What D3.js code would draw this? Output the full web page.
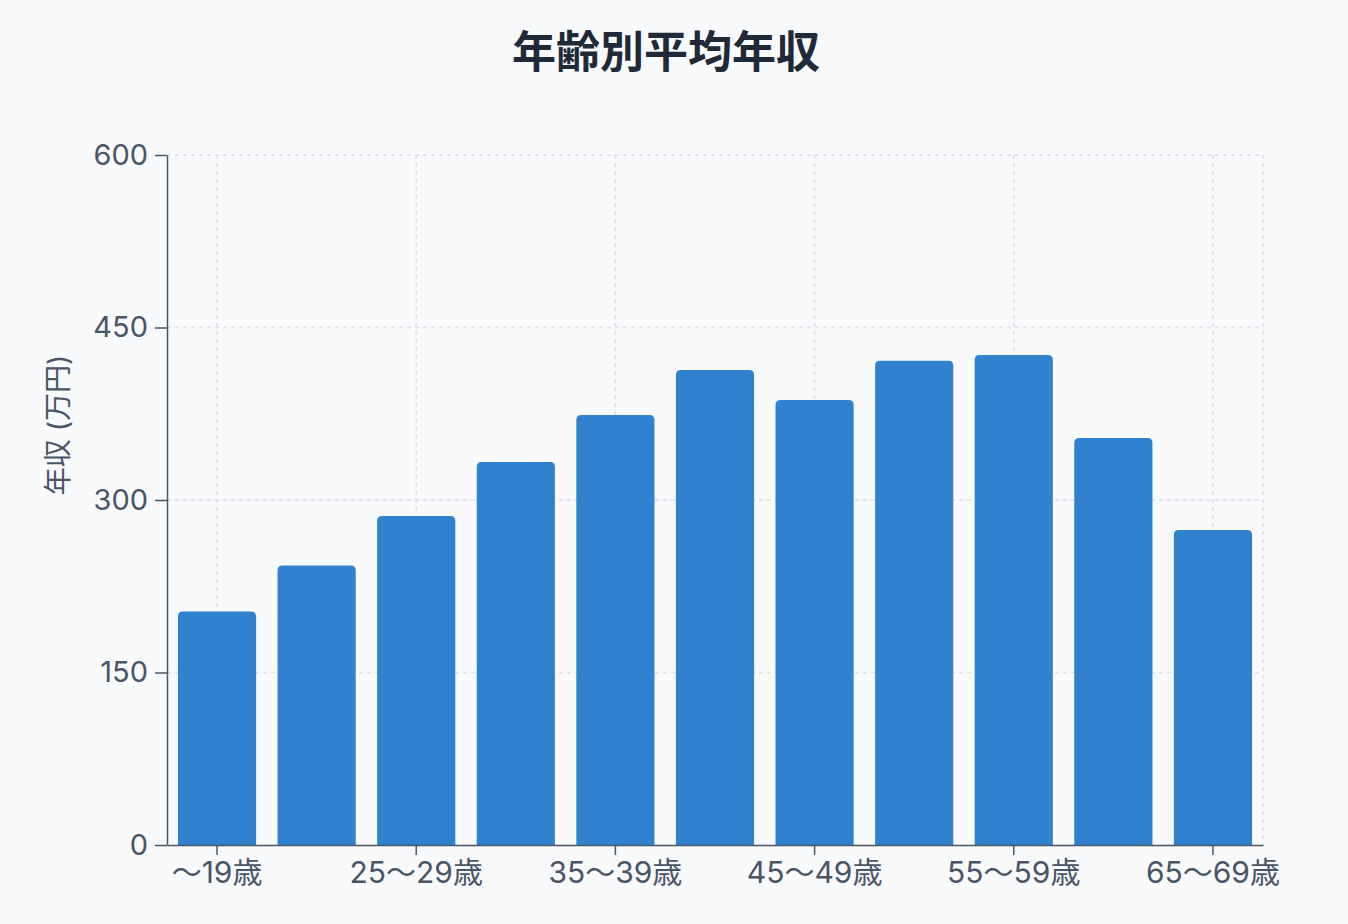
<!DOCTYPE html>
<html>
<head>
<meta charset="utf-8">
<script src="https://cdn.jsdelivr.net/npm/d3@7"></script>
<style>
  html, body { margin: 0; padding: 0; background: #f8fafc; }
  svg { display: block; font-family: Inter, "Noto Sans CJK JP", sans-serif; }
</style>
</head>
<body>
<svg id="chart"></svg>
<script>
// data
const ageGroups = ['〜19歳', '20〜24歳', '25〜29歳', '30〜34歳', '35〜39歳', '40〜44歳',
    '45〜49歳', '50〜54歳', '55〜59歳', '60〜64歳', '65〜69歳']
const avgIncome = [203, 243, 286, 333, 374, 413, 387, 421, 426, 354, 274]
const yTicks = [0, 150, 300, 450, 600]

const svgw = 1348
const svgh = 924
const margin = { top: 155, right: 85, bottom: 79, left: 167 }
const w = svgw - margin.left - margin.right
const h = svgh - margin.top - margin.bottom
const fontStack = 'Inter, "Noto Sans CJK JP", sans-serif'

const svg = d3.select('#chart')
    .attr('width', svgw)
    .attr('height', svgh)

svg.append('rect')
    .attr('width', svgw)
    .attr('height', svgh)
    .attr('fill', '#f8fafc')

svg.append('text')
    .attr('x', 666)
    .attr('y', 68)
    .attr('text-anchor', 'middle')
    .style('font-family', '"Noto Sans CJK JP", sans-serif')
    .style('font-size', '44px')
    .style('font-weight', 'bold')
    .style('fill', '#1f2937')
    .text('年齢別平均年収')

const g = svg.append('g')
    .attr('transform', `translate(${margin.left}, ${margin.top})`)

const xScale = d3.scaleBand()
    .domain(ageGroups)
    .range([0, w])
    .paddingInner(0.215)
    .paddingOuter(0.11)

const yScale = d3.scaleLinear()
    .domain([0, 600])
    .range([h, 0])

// grid lines
const gridColor = '#dcdfe3'
g.append('g')
    .selectAll('line')
    .data(yTicks.filter(d => d > 0))
    .join('line')
    .attr('x1', 0)
    .attr('x2', w)
    .attr('y1', d => yScale(d))
    .attr('y2', d => yScale(d))
    .attr('stroke', gridColor)
    .attr('stroke-width', 1.5)
    .attr('stroke-dasharray', '4 4')

const shownLabels = ageGroups.filter((d, i) => i % 2 === 0)

g.append('g')
    .selectAll('line')
    .data(shownLabels)
    .join('line')
    .attr('x1', d => xScale(d) + xScale.bandwidth() / 2)
    .attr('x2', d => xScale(d) + xScale.bandwidth() / 2)
    .attr('y1', 0)
    .attr('y2', h)
    .attr('stroke', gridColor)
    .attr('stroke-width', 1.5)
    .attr('stroke-dasharray', '4 4')

g.append('line')
    .attr('x1', w)
    .attr('x2', w)
    .attr('y1', 0)
    .attr('y2', h)
    .attr('stroke', gridColor)
    .attr('stroke-width', 1.5)
    .attr('stroke-dasharray', '4 4')

// bars, rounded on top only
const r = 5
const barPath = d => {
    const x0 = xScale(d.k)
    const x1 = x0 + xScale.bandwidth()
    const y0 = yScale(d.v)
    const y1 = yScale(0)
    return `M${x0},${y1}V${y0 + r}Q${x0},${y0} ${x0 + r},${y0}H${x1 - r}Q${x1},${y0} ${x1},${y0 + r}V${y1}Z`
}

g.append('g')
    .selectAll('path')
    .data(ageGroups.map((k, i) => ({ k: k, v: avgIncome[i] })))
    .join('path')
    .attr('d', barPath)
    .attr('fill', '#3182ce')

// axes
const axisColor = '#4a5568'

const xAxis = d3.axisBottom(xScale)
    .tickValues(shownLabels)
    .tickSize(10)
    .tickSizeOuter(0)
    .tickPadding(7)

const yAxis = d3.axisLeft(yScale)
    .tickValues(yTicks)
    .tickSize(12)
    .tickSizeOuter(0)
    .tickPadding(7)

const xg = g.append('g')
    .attr('transform', `translate(0, ${h})`)
    .call(xAxis)
xg.select('.domain').attr('stroke', axisColor).attr('stroke-width', 1.5)
xg.selectAll('.tick line').attr('stroke', axisColor).attr('stroke-width', 1.5)
xg.selectAll('.tick text')
    .style('font-size', '30px')
    .style('fill', axisColor)
    .style('font-family', fontStack)

const yg = g.append('g')
    .call(yAxis)
yg.select('.domain').attr('stroke', axisColor).attr('stroke-width', 1.5)
yg.selectAll('.tick line').attr('stroke', axisColor).attr('stroke-width', 1.5)
yg.selectAll('.tick text')
    .style('font-size', '29px')
    .style('fill', axisColor)
    .style('font-family', fontStack)

svg.append('text')
    .attr('transform', `translate(58, ${margin.top + h / 2 - 75}) rotate(-90)`)
    .attr('text-anchor', 'middle')
    .attr('dy', '0.35em')
    .style('font-size', '28px')
    .style('font-family', fontStack)
    .style('fill', axisColor)
    .text('年収 (万円)')
</script>
</body>
</html>
